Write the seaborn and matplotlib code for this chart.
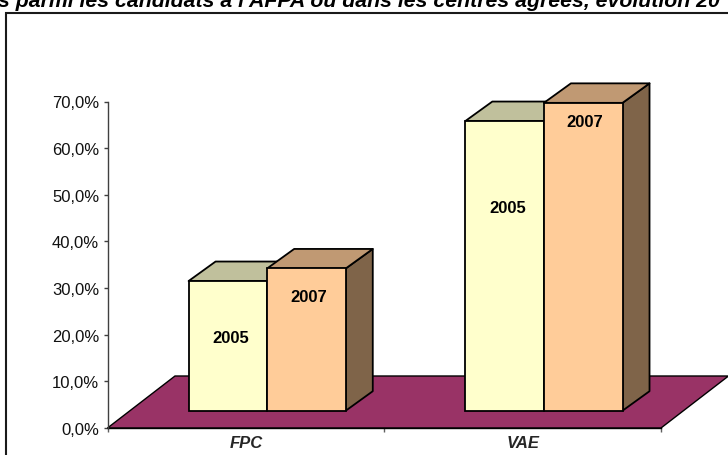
import numpy as np
import pandas as pd
import matplotlib
matplotlib.use("Agg")
import matplotlib.pyplot as plt
from matplotlib.patches import Polygon, Rectangle
from matplotlib.colors import to_rgb
import seaborn as sns

# ---------------- data ----------------
categories = ["FPC", "VAE"]
years = ["2005", "2007"]
values_2005 = [0.278, 0.621]
values_2007 = [0.305, 0.660]
y_ticks = [0.0, 0.1, 0.2, 0.3, 0.4, 0.5, 0.6, 0.7]
title_text = "s parmi les candidats à l'AFPA ou dans les centres agréés, évolution 20"

df = pd.DataFrame({
    "cat": categories * 2,
    "year": [years[0]] * len(categories) + [years[1]] * len(categories),
    "val": values_2005 + values_2007,
})

# ---------------- style ----------------
sns.set_theme(style="white")
plt.rcParams["font.family"] = ["Liberation Sans", "DejaVu Sans"]

front_col = {"2005": "#FFFFCC", "2007": "#FFCC99"}
top_col = {"2005": "#C0C09C", "2007": "#C09973"}
side_col = {"2005": "#80806A", "2007": "#7F6449"}
floor_col = "#993366"

W, H = 728, 456
fig = plt.figure(figsize=(W / 100, H / 100), dpi=100)
ax_l, ax_r, ax_b, ax_t = 107.5, 661.0, 429.0, 102.5
ax = fig.add_axes([ax_l / W, (H - ax_b) / H, (ax_r - ax_l) / W, (ax_b - ax_t) / H])

sns.barplot(data=df, x="cat", y="val", hue="year", order=categories, hue_order=years,
            palette=front_col, width=0.568, saturation=1, edgecolor="black",
            linewidth=1.3, legend=False, ax=ax)

ax.set_xlim(-0.5, 1.5)
ax.set_ylim(0, 0.7)
sx = (ax_r - ax_l) / 2.0
sy = (ax_b - ax_t) / 0.7


def px(dx, dy):
    return dx / sx, dy / sy


# floor
fdx, fdy = px(67.5, 52)
floor = Polygon([(-0.5, 0), (1.5, 0), (1.5 + fdx, fdy), (-0.5 + fdx, fdy)], closed=True,
                facecolor=floor_col, edgecolor="black", lw=1.0, clip_on=False, zorder=1)
ax.add_patch(floor)

# bars in 3D
ox, oy = px(21.3, 17.3)
bx, by = px(27, 19.5)
label_h = {("FPC", "2005"): 0.156, ("FPC", "2007"): 0.245,
           ("VAE", "2005"): 0.436, ("VAE", "2007"): 0.619}
label_dx = {"2005": 3.0, "2007": 2.0}

bars = [p for p in ax.patches if isinstance(p, Rectangle)]
for p in bars:
    fc = to_rgb(p.get_facecolor())
    yr = "2005" if np.allclose(fc, to_rgb(front_col["2005"]), atol=0.02) else "2007"
    z = 3 if yr == "2005" else 5
    x, w, h = p.get_x(), p.get_width(), p.get_height()
    cat = categories[int(round(x + w / 2 + (0.142 if yr == "2005" else -0.142)))]
    p.set_x(x + ox)
    p.set_y(oy)
    p.set_clip_on(False)
    p.set_zorder(z + 0.5)
    x0 = x + ox
    top = Polygon([(x0, oy + h), (x0 + w, oy + h), (x0 + w + bx, oy + h + by), (x0 + bx, oy + h + by)],
                  closed=True, facecolor=top_col[yr], edgecolor="black", lw=1.3,
                  clip_on=False, zorder=z, joinstyle="round")
    side = Polygon([(x0 + w, oy), (x0 + w + bx, oy + by), (x0 + w + bx, oy + h + by), (x0 + w, oy + h)],
                   closed=True, facecolor=side_col[yr], edgecolor="black", lw=1.3,
                   clip_on=False, zorder=z, joinstyle="round")
    ax.add_patch(side)
    ax.add_patch(top)
    ax.text(x0 + w / 2 + label_dx[yr] / sx, oy + label_h[(cat, yr)], yr, ha="center", va="center",
            fontsize=12, fontweight="bold", color="black", zorder=10)

# axes styling
for s in ["top", "right"]:
    ax.spines[s].set_visible(False)
ax.spines["left"].set_color("#404040")
ax.spines["left"].set_linewidth(1.0)
ax.spines["bottom"].set_color("black")
ax.spines["bottom"].set_linewidth(1.0)
ax.spines["bottom"].set_zorder(2)

ax.set_yticks(y_ticks)
ax.set_yticklabels([f"{v * 100:.1f}%".replace(".", ",") for v in y_ticks])
ax.tick_params(axis="y", direction="out", length=3, width=1, color="#404040",
               pad=3, labelsize=12, labelcolor="#111111", left=True)

ax.set_xticks([-0.5, 0.5, 1.5])
ax.set_xticklabels(["", "", ""])
ax.set_xticks([0, 1], minor=True)
ax.set_xticklabels(categories, minor=True, fontsize=12, fontweight="bold", fontstyle="italic")
ax.tick_params(axis="x", which="major", direction="out", length=3, width=1, color="#606060", bottom=True)
ax.tick_params(axis="x", which="minor", length=0, pad=5, bottom=True)
ax.set_xlabel("")
ax.set_ylabel("")
ax.grid(False)
ax.patch.set_alpha(0)

# frame and clipped title (the reference shows only its lower half)
fig.add_artist(Rectangle((5.5 / W, -0.2), 1.5, (H - 14) / H + 0.2, transform=fig.transFigure,
                         fill=False, lw=1.5, edgecolor="#1a1a1a"))
fig.text(-2 / W, 1 - 7 / H, title_text, ha="left", va="baseline", fontsize=15.3,
         fontweight="bold", fontstyle="italic", color="black")

fig.savefig("out.png", dpi=100)
